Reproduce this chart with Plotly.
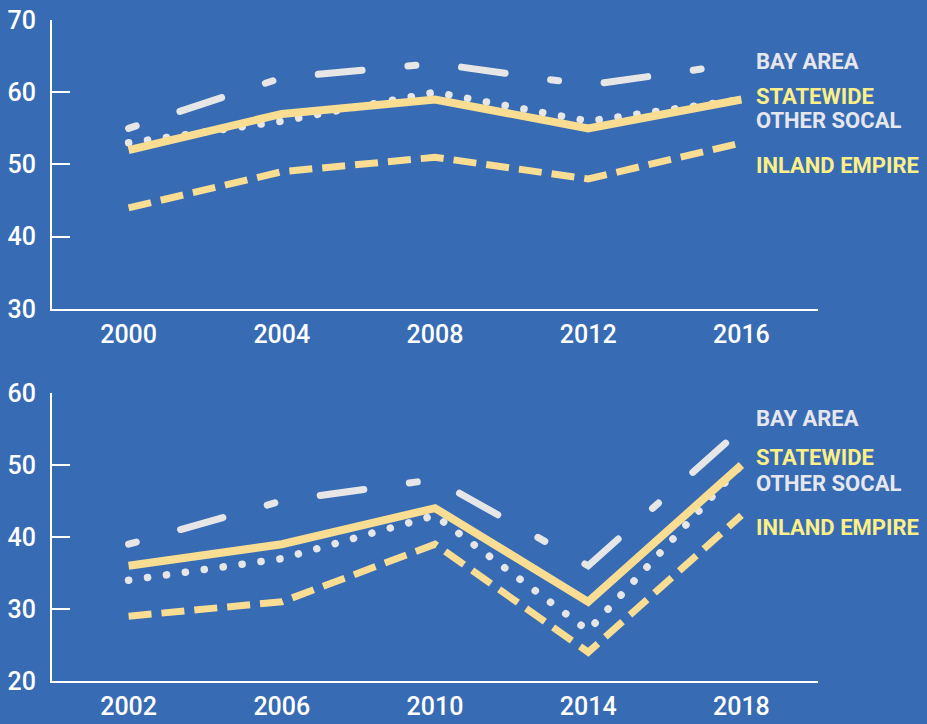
import plotly.graph_objects as go

# --- data -------------------------------------------------------------
years_top = [2000, 2004, 2008, 2012, 2016]
years_bottom = [2002, 2006, 2010, 2014, 2018]

series_names = ['BAY AREA', 'STATEWIDE', 'OTHER SOCAL', 'INLAND EMPIRE']

bay_top = [55, 62, 64, 61, 64]
state_top = [52, 57, 59, 55, 59]
socal_top = [53, 56, 60, 56, 59]
inland_top = [44, 49, 51, 48, 53]

bay_bottom = [39, 45, 48, 36, 55]
state_bottom = [36, 39, 44, 31, 50]
socal_bottom = [34, 37, 43, 27, 50]
inland_bottom = [29, 31, 39, 24, 43]

ticks_top = [30, 40, 50, 60, 70]
ticks_bottom = [20, 30, 40, 50, 60]

# label positions (data units, right side)
label_y_top = [64.2, 59.4, 56.1, 49.9]
label_y_bottom = [56.5, 51.1, 47.5, 41.3]

# --- styles -----------------------------------------------------------
BG = '#376bb4'
GREY = '#e6e6e6'
YELLOW = '#f8dd93'
LABEL_YELLOW = '#fbef86'
LABEL_GREY = '#e6e7ec'
TICK_FONT = dict(family='Roboto, sans-serif', size=25, color='white', weight=500)

styles = {
    'BAY AREA': dict(color=GREY, width=7, dash='8px,46px,44px,46px'),
    'STATEWIDE': dict(color=YELLOW, width=8, dash='solid'),
    'OTHER SOCAL': dict(color=GREY, width=7.5, dash='0.1px,19px'),
    'INLAND EMPIRE': dict(color=YELLOW, width=7, dash='23px,10px'),
}
label_colors = {'BAY AREA': LABEL_GREY, 'STATEWIDE': LABEL_YELLOW,
                'OTHER SOCAL': LABEL_GREY, 'INLAND EMPIRE': LABEL_YELLOW}

fig = go.Figure()

panels = [
    ('x', 'y', years_top, [bay_top, state_top, socal_top, inland_top], label_y_top),
    ('x2', 'y2', years_bottom, [bay_bottom, state_bottom, socal_bottom, inland_bottom], label_y_bottom),
]

# draw order: dotted and dashed under the solid line
order = ['OTHER SOCAL', 'BAY AREA', 'INLAND EMPIRE', 'STATEWIDE']
for xa, ya, yrs, vals, lab_y in panels:
    by_name = dict(zip(series_names, vals))
    for name in order:
        fig.add_trace(go.Scatter(x=yrs, y=by_name[name], mode='lines', name=name,
                                 line=styles[name], xaxis=xa, yaxis=ya,
                                 showlegend=False, hoverinfo='skip'))
    for name, ly in zip(series_names, lab_y):
        fig.add_annotation(x=yrs[-1], y=ly, xref=xa, yref=ya, text='<b>%s</b>' % name,
                           showarrow=False, xanchor='left', yanchor='middle', xshift=13,
                           font=dict(family='Roboto, sans-serif', size=22,
                                     color=label_colors[name]))

axis_common = dict(showgrid=False, zeroline=False, showline=True, linecolor='white',
                   linewidth=2, tickfont=TICK_FONT, automargin=False)

fig.update_layout(
    width=927, height=724,
    margin=dict(l=52, r=109, t=20, b=43),
    paper_bgcolor=BG, plot_bgcolor=BG,
    xaxis=dict(domain=[0, 1], range=[1998, 2018], tickvals=years_top, ticks='',
               anchor='y', ticklabelstandoff=2, **axis_common),
    yaxis=dict(domain=[0.5628, 1], range=[30, 70], tickvals=ticks_top, ticks='inside',
               ticklen=18, tickwidth=2, tickcolor='white', anchor='x',
               ticklabelstandoff=9, **axis_common),
    xaxis2=dict(domain=[0, 1], range=[2000, 2020], tickvals=years_bottom, ticks='',
                anchor='y2', ticklabelstandoff=2, **axis_common),
    yaxis2=dict(domain=[0, 0.4357], range=[20, 60], tickvals=ticks_bottom, ticks='inside',
                ticklen=18, tickwidth=2, tickcolor='white', anchor='x2',
                ticklabelstandoff=9, **axis_common),
)

# no page margin; round caps for the grey dotted / dash-dot lines
post = """
document.body.style.margin = '0';
document.body.style.background = '%s';
document.querySelectorAll('.scatterlayer path.js-line').forEach(function(p){
  if ((p.style.stroke || '').indexOf('230') >= 0) { p.style.strokeLinecap = 'round'; }
});
""" % BG
fig.write_html("out.html", post_script=post, config={'displayModeBar': False})
